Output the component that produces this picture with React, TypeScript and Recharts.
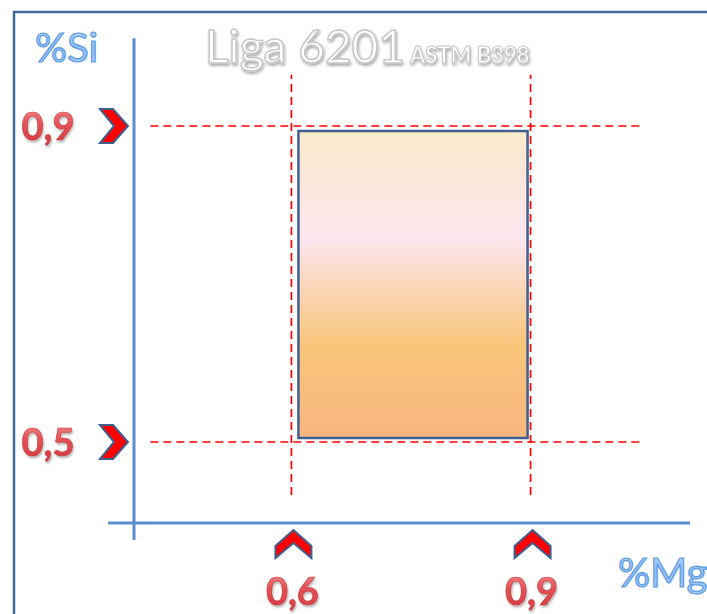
import { ComposedChart, XAxis, YAxis, ReferenceArea, ReferenceLine } from "recharts";

// Alloy 6201 composition window (ASTM B398)
const MG_RANGE = [0.6, 0.9];
const SI_RANGE = [0.5, 0.9];
const MG_TICKS = [0.6, 0.9];
const SI_TICKS = [0.5, 0.9];
const MG_DOMAIN = [0.4, 1.1];
const SI_DOMAIN = [0.4, 1.0];
// extents of the dashed guides and of the axis lines, in data units
const GUIDE_MG_SPAN = [0.423, 1.041];
const GUIDE_SI_SPAN = [0.433, 0.965];
const AXIS_MG_SPAN = [0.37, 1.1];
const AXIS_SI_SPAN = [0.376, 1.011];
const AXIS_ORIGIN = { mg: 0.4025, si: 0.3975 };

const data = MG_RANGE.map((mg, i) => ({ mg, si: SI_RANGE[i] }));

const W = 707;
const H = 614;
const FONT = "Lato, 'Open Sans', sans-serif";
const AXIS_BLUE = "#5A8ED0";
const EDGE_BLUE = "#3F5F8E";

const fmt = (v: number) => v.toFixed(1).replace(".", ",");

const labelStyle = {
  fontFamily: FONT,
  fontWeight: 700,
  fontSize: 38,
  fill: "url(#redText)",
  stroke: "#C83A3E",
  strokeWidth: 0.6,
};

function SiTick({ x, y, payload }: any) {
  const px = x - 32;
  const pts = [
    [px, y - 17],
    [px + 13, y - 17],
    [px + 28, y],
    [px + 13, y + 17],
    [px, y + 17],
    [px + 14, y],
  ]
    .map((p) => p.join(","))
    .join(" ");
  return (
    <g>
      <text x={x - 84} y={y + 14} textAnchor="middle" style={labelStyle} filter="url(#softShadow)">
        {fmt(payload.value)}
      </text>
      <polygon points={pts} fill="#FF0000" stroke={EDGE_BLUE} strokeWidth={2} strokeLinejoin="miter" />
    </g>
  );
}

function MgTick({ x, y, payload }: any) {
  const cx = x + 2;
  const pts = [
    [cx, y + 9],
    [cx + 18, y + 25],
    [cx + 18, y + 37],
    [cx, y + 22],
    [cx - 18, y + 37],
    [cx - 18, y + 25],
  ]
    .map((p) => p.join(","))
    .join(" ");
  return (
    <g>
      <polygon points={pts} fill="#FF0000" stroke={EDGE_BLUE} strokeWidth={2} />
      <text x={x + 1} y={y + 84} textAnchor="middle" style={labelStyle} filter="url(#softShadow)">
        {fmt(payload.value)}
      </text>
    </g>
  );
}

function AlloyBox(props: any) {
  const { x, y, width, height } = props;
  return (
    <rect
      x={x + 7}
      y={y + 5}
      width={width - 10}
      height={height - 9}
      fill="url(#alloyFill)"
      stroke={EDGE_BLUE}
      strokeWidth={2.5}
    />
  );
}

export default function App() {
  return (
    <div style={{ position: "absolute", left: 0, top: 0, width: W, height: H, background: "#fff" }}>
      <ComposedChart
        width={W}
        height={H}
        data={data}
        margin={{ top: 47, right: 17, bottom: 0, left: 0 }}
      >
        <defs>
          <linearGradient id="alloyFill" x1="0" y1="0" x2="0" y2="1">
            <stop offset="0" stopColor="#FAEBCB" />
            <stop offset="0.12" stopColor="#FAE7D6" />
            <stop offset="0.35" stopColor="#FCE6EF" />
            <stop offset="0.5" stopColor="#FAD7BC" />
            <stop offset="0.7" stopColor="#F8C57A" />
            <stop offset="1" stopColor="#F8B67F" />
          </linearGradient>
          <linearGradient id="redText" x1="0" y1="0" x2="0" y2="1">
            <stop offset="0" stopColor="#F59A9A" />
            <stop offset="0.45" stopColor="#E55257" />
            <stop offset="1" stopColor="#D2383D" />
          </linearGradient>
          <filter id="softShadow" x="-20%" y="-20%" width="140%" height="160%">
            <feDropShadow dx="1" dy="2" stdDeviation="1.2" floodColor="#000" floodOpacity="0.3" />
          </filter>
        </defs>
        <XAxis
          type="number"
          dataKey="mg"
          domain={MG_DOMAIN}
          ticks={MG_TICKS}
          interval={0}
          allowDataOverflow
          height={93}
          axisLine={false}
          tickLine={false}
          tickSize={0}
          tickMargin={0}
          tick={(p: any) => <MgTick {...p} />}
        />
        <YAxis
          type="number"
          dataKey="si"
          domain={SI_DOMAIN}
          ticks={SI_TICKS}
          interval={0}
          allowDataOverflow
          width={132}
          axisLine={false}
          tickLine={false}
          tickSize={0}
          tickMargin={0}
          tick={(p: any) => <SiTick {...p} />}
        />
        <ReferenceArea
          x1={MG_RANGE[0]}
          x2={MG_RANGE[1]}
          y1={SI_RANGE[0]}
          y2={SI_RANGE[1]}
          ifOverflow="visible"
          shape={(p: any) => <AlloyBox {...p} />}
        />
        {SI_TICKS.map((v) => (
          <ReferenceLine
            key={"h" + v}
            segment={[
              { x: GUIDE_MG_SPAN[0], y: v },
              { x: GUIDE_MG_SPAN[1], y: v },
            ]}
            stroke="#FF0000"
            strokeWidth={1.7}
            strokeDasharray="8 5"
            ifOverflow="visible"
          />
        ))}
        {MG_TICKS.map((v) => (
          <ReferenceLine
            key={"v" + v}
            segment={[
              { x: v, y: GUIDE_SI_SPAN[0] },
              { x: v, y: GUIDE_SI_SPAN[1] },
            ]}
            stroke="#FF0000"
            strokeWidth={1.7}
            strokeDasharray="8 5"
            ifOverflow="visible"
          />
        ))}
        <ReferenceLine
          segment={[
            { x: AXIS_MG_SPAN[0], y: AXIS_ORIGIN.si },
            { x: AXIS_MG_SPAN[1], y: AXIS_ORIGIN.si },
          ]}
          stroke={AXIS_BLUE}
          strokeWidth={3}
          ifOverflow="visible"
        />
        <ReferenceLine
          segment={[
            { x: AXIS_ORIGIN.mg, y: AXIS_SI_SPAN[0] },
            { x: AXIS_ORIGIN.mg, y: AXIS_SI_SPAN[1] },
          ]}
          stroke={AXIS_BLUE}
          strokeWidth={3}
          ifOverflow="visible"
        />
      </ComposedChart>
      <svg
        width={W}
        height={H}
        style={{ position: "absolute", left: 0, top: 0, pointerEvents: "none" }}
      >
        <defs>
          <filter id="titleShadow" x="-10%" y="-30%" width="120%" height="170%">
            <feDropShadow dx="1" dy="2" stdDeviation="1.5" floodColor="#000" floodOpacity="0.35" />
          </filter>
          <linearGradient id="blueText" x1="0" y1="0" x2="0" y2="1">
            <stop offset="0" stopColor="#C4DEFB" />
            <stop offset="0.5" stopColor="#8CBDF4" />
            <stop offset="1" stopColor="#A9CFF8" />
          </linearGradient>
        </defs>
        <polyline points={`14,${H} 14,12 ${W},12`} fill="none" stroke="#46699B" strokeWidth={2.5} />
        <text
          x={205}
          y={63}
          fontFamily={FONT}
          fontSize={46}
          fill="#FFFFFF"
          stroke="#C4C4C4"
          strokeWidth={1.4}
          filter="url(#titleShadow)"
        >
          Liga 6201
        </text>
        <text
          x={410}
          y={63}
          fontFamily={FONT}
          fontWeight={700}
          fontSize={22}
          fill="#FFFFFF"
          stroke="#C4C4C4"
          strokeWidth={0.9}
          filter="url(#titleShadow)"
        >
          ASTM B398
        </text>
        <text
          x={35}
          y={62}
          fontFamily={FONT}
          fontSize={40}
          fill="url(#blueText)"
          stroke="#5C9BE3"
          strokeWidth={1.2}
        >
          %Si
        </text>
        <text
          x={618}
          y={587}
          fontFamily={FONT}
          fontSize={40}
          fill="url(#blueText)"
          stroke="#5C9BE3"
          strokeWidth={1.2}
        >
          %Mg
        </text>
      </svg>
    </div>
  );
}
